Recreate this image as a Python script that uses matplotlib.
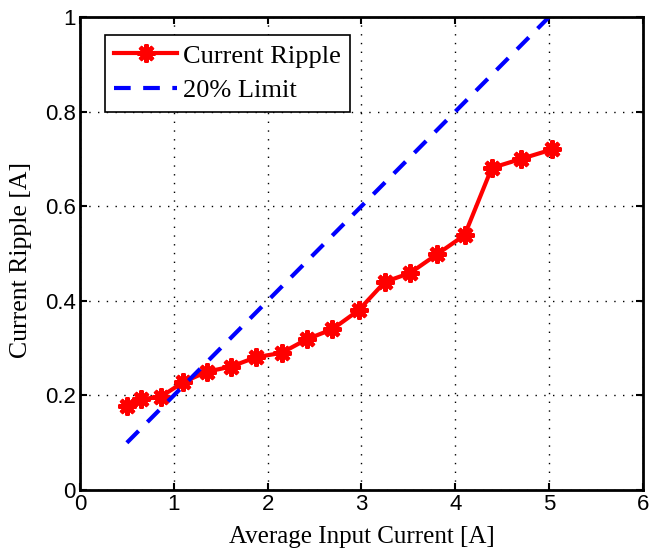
import numpy as np
import matplotlib.pyplot as plt

# measured ripple vs. average input current
i_avg = [0.50, 0.65, 0.86, 1.10, 1.35, 1.61, 1.88, 2.15, 2.42, 2.69,
         2.97, 3.25, 3.52, 3.81, 4.10, 4.39, 4.70, 5.03]
ripple = [0.178, 0.192, 0.197, 0.228, 0.250, 0.261, 0.281, 0.290, 0.319, 0.340,
          0.380, 0.440, 0.459, 0.499, 0.539, 0.681, 0.700, 0.720]

# 20 % of the input current
lim_x = [0.5, 5.0]
lim_y = [0.1, 1.0]

serif = ['Liberation Serif', 'DejaVu Serif']
sans = ['Liberation Sans', 'DejaVu Sans']

fig = plt.figure(figsize=(6.5, 5.5), dpi=100)
ax = fig.add_axes([0.123, 0.109, 0.866, 0.860])

ax.plot(i_avg, ripple, color='red', lw=3, marker=(8, 2, 0), ms=13, mew=3,
        label='Current Ripple')
ax.plot(lim_x, lim_y, color='blue', lw=3, ls=(0, (4, 3)), label='20% Limit')

ax.set_xlim(0, 6)
ax.set_ylim(0, 1)
ax.set_xticks(np.arange(0, 7, 1))
ax.set_yticks(np.arange(0, 1.01, 0.2))
ax.set_xticklabels(['0', '1', '2', '3', '4', '5', '6'])
ax.set_yticklabels(['0', '0.2', '0.4', '0.6', '0.8', '1'])
for lab in ax.get_xticklabels() + ax.get_yticklabels():
    lab.set_family(sans)
    lab.set_fontsize(16)

ax.tick_params(direction='in', top=True, right=True, length=5, width=1.5, pad=3)
ax.grid(True, color='black', ls=(0, (1, 5.3)), lw=1)
for s in ax.spines.values():
    s.set_linewidth(2)

ax.set_xlabel('Average Input Current [A]', family=serif, fontsize=18, labelpad=8)
ax.set_ylabel('Current Ripple [A]', family=serif, fontsize=18.5)
ax.yaxis.set_label_coords(-0.085, 0.486)

leg = ax.legend(loc='upper left', bbox_to_anchor=(0.044, 0.962), borderaxespad=0,
                prop={'family': serif, 'size': 19},
                fancybox=False, edgecolor='black', framealpha=1, handlelength=2.4,
                borderpad=0.35, labelspacing=0.42, handletextpad=0.2)
leg.get_frame().set_linewidth(1.2)

fig.savefig('out.png', dpi=100)
